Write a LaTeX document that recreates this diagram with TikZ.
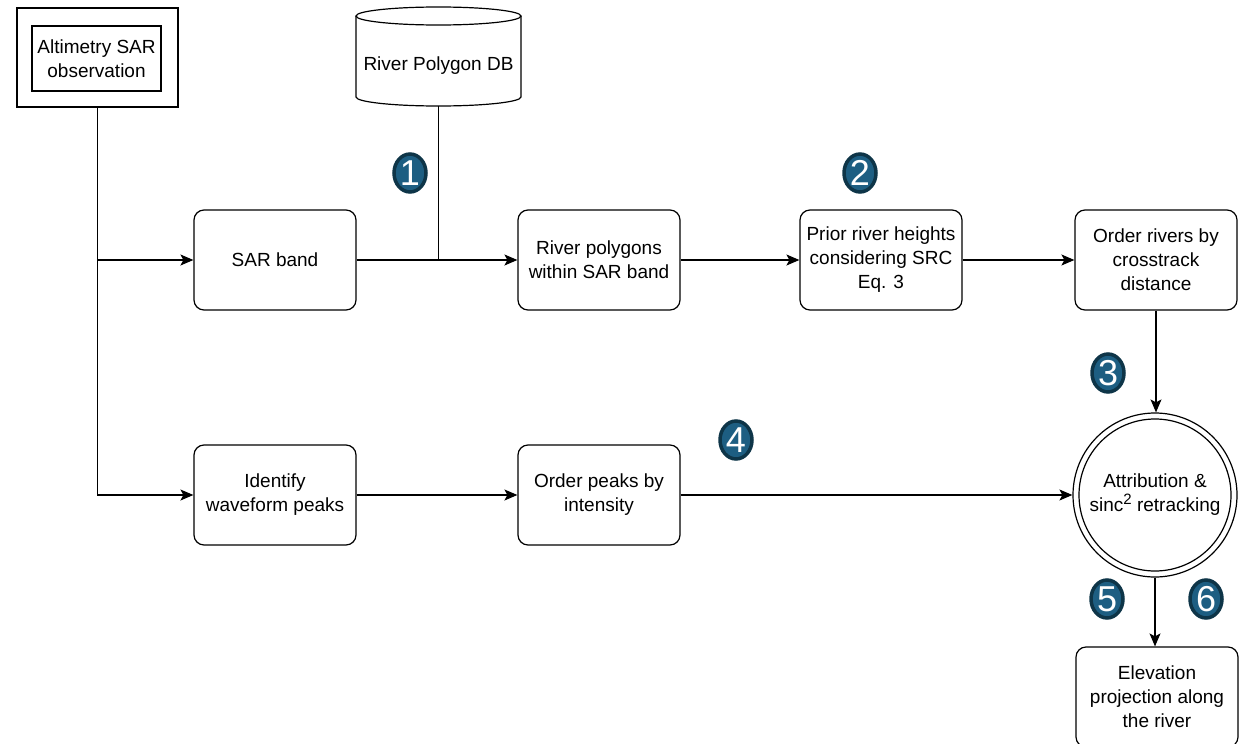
\documentclass[tikz,border=0pt]{standalone}
\usepackage{fontspec}
\setmainfont{Liberation Sans}
\usetikzlibrary{arrows.meta,shapes.geometric}
\definecolor{badgeout}{HTML}{0E3548}
\definecolor{badgein}{HTML}{1D5E82}
\begin{document}
\begin{tikzpicture}[x=1pt,y=-1pt,
  every node/.style={font=\fontsize{19}{24}\selectfont},
  stepbox/.style={draw, line width=1.2pt, rounded corners=10pt, minimum width=162pt, minimum height=100pt, align=center, inner sep=2pt},
  conn/.style={line width=1.3pt},
  arr/.style={line width=1.2pt, -{Stealth[length=13pt,width=11pt,inset=3pt]}},
  badge/.style={ellipse, minimum width=32pt, minimum height=38pt, inner sep=0pt, fill=badgein, draw=badgeout, line width=3.5pt, text=white, font=\fontsize{36}{36}\selectfont}
]
\useasboundingbox (0,0) rectangle (1245,744);

% observation double box
\node[draw, line width=1.2pt, minimum width=161pt, minimum height=99pt] (obsout) at (97.5,57.5) {};
\node[draw, line width=1.2pt, minimum width=129pt, minimum height=65pt, align=center, inner sep=0pt] (obs) at (96.5,58.5) {Altimetry SAR\\observation};

% database cylinder
\draw[line width=1.2pt] (356,16) -- (356,97) arc[start angle=180, end angle=0, x radius=82.5, y radius=9] -- (521,16);
\draw[line width=1.2pt] (438.5,16) ellipse[x radius=82.5, y radius=9];
\node (db) at (438.5,66) {River Polygon DB};
\coordinate (dbb) at (438.5,106);

% boxes
\node[stepbox] (sar) at (275,260) {SAR band};
\node[stepbox] (poly) at (599,260) {River polygons\\within SAR band};
\node[stepbox] (prior) at (881,260) {Prior river heights\\considering SRC\\Eq. 3};
\node[stepbox] (order) at (1156,260) {Order rivers by\\crosstrack\\distance};
\node[stepbox] (ident) at (275,495) {Identify\\waveform peaks};
\node[stepbox] (peaks) at (599,495) {Order peaks by\\intensity};
\node[circle, draw, line width=1.2pt, minimum size=164pt, align=center, inner sep=0pt] (attr) at (1155,495) {Attribution \&\\sinc\raisebox{0.75ex}{\fontsize{15}{15}\selectfont 2} retracking};
\draw[line width=1.2pt] (attr.center) circle[radius=76];
\node[stepbox] (elev) at (1157,697) {Elevation\\projection along\\the river};

% connectors
\draw[arr] (obsout.south) |- (ident.west);
\draw[arr] (obsout.south |- sar.west) -- (sar.west);
\draw[arr] (sar.east) -- (poly.west);
\draw[conn] (dbb) -- (dbb |- sar.east);
\draw[arr] (poly.east) -- (prior.west);
\draw[arr] (prior.east) -- (order.west);
\draw[arr] (order.south) -- (order.south |- attr.north);
\draw[arr] (ident.east) -- (peaks.west);
\draw[arr] (peaks.east) -- (attr.west);
\draw[arr] (attr.south) -- (attr.south |- elev.north);

% badges
\node[badge] (b1) at (410,173) {1};
\node[badge] (b2) at (860,173) {2};
\node[badge] (b3) at (1108,373) {3};
\node[badge] (b4) at (736,440) {4};
\node[badge] (b5) at (1107,599) {5};
\node[badge] (b6) at (1206,599) {6};
\end{tikzpicture}
\end{document}
